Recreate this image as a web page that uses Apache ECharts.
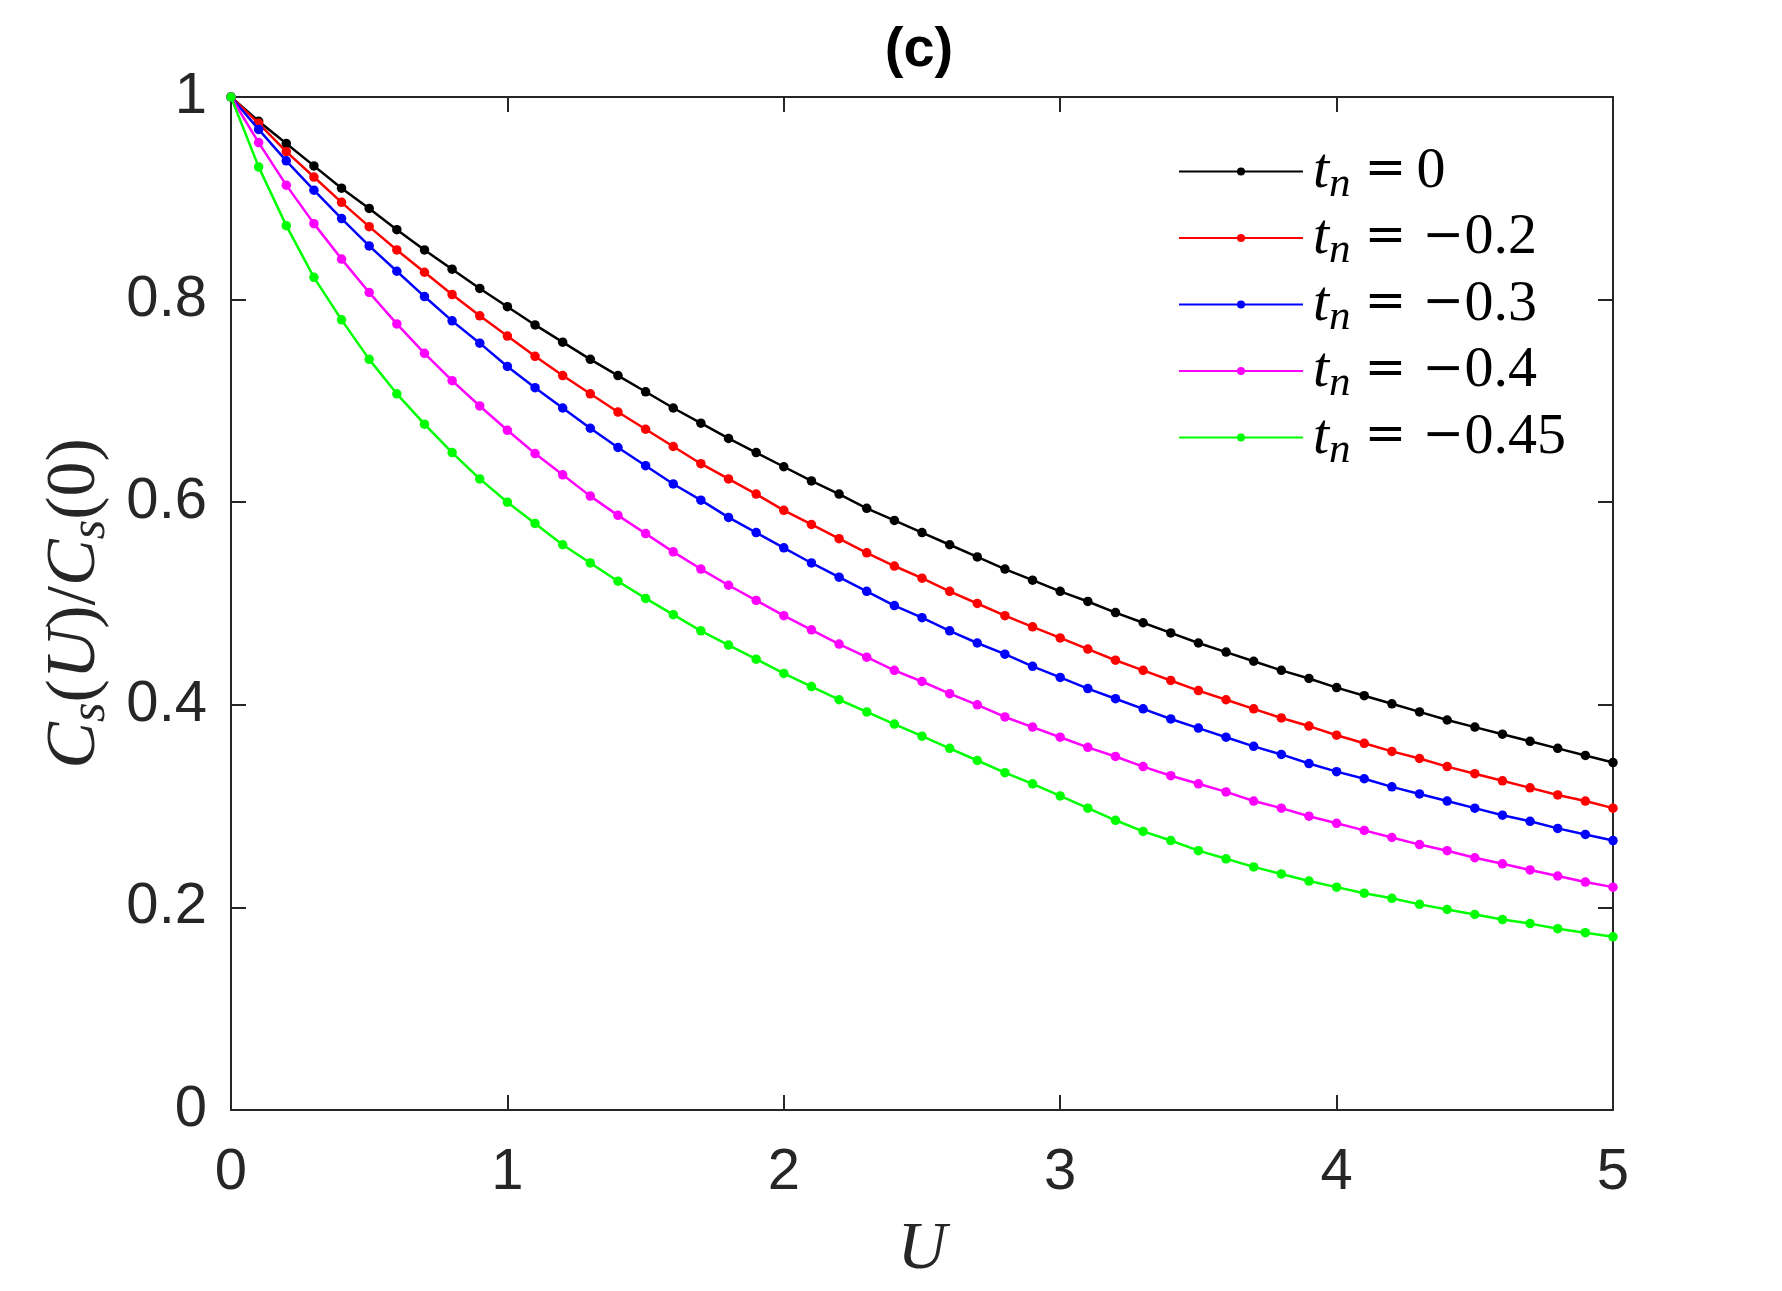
<!DOCTYPE html>
<html>
<head>
    <meta charset="utf-8">
    <title>Cs(U)/Cs(0)</title>
    <script src="https://cdn.jsdelivr.net/npm/echarts@6.0.0/dist/echarts.min.js"></script>
    <style>
        body { margin: 0; background: #fff; }
    </style>
</head>
<body>
    <div id="main" style="width: 1782px;height:1291px;"></div>
    <script type="text/javascript">
        // U grid (x values)
        var uValues = [0, 0.1, 0.2, 0.3, 0.4, 0.5, 0.6, 0.7, 0.8, 0.9,
            1.0, 1.1, 1.2, 1.3, 1.4, 1.5, 1.6, 1.7, 1.8, 1.9,
            2.0, 2.1, 2.2, 2.3, 2.4, 2.5, 2.6, 2.7, 2.8, 2.9,
            3.0, 3.1, 3.2, 3.3, 3.4, 3.5, 3.6, 3.7, 3.8, 3.9,
            4.0, 4.1, 4.2, 4.3, 4.4, 4.5, 4.6, 4.7, 4.8, 4.9, 5.0];

        // Cs(U)/Cs(0)
        var tn0 = [1, 0.976, 0.954, 0.932, 0.910, 0.890, 0.869, 0.849, 0.830, 0.811,
            0.793, 0.775, 0.758, 0.741, 0.725, 0.709, 0.693, 0.678, 0.663, 0.649,
            0.635, 0.621, 0.608, 0.594, 0.582, 0.570, 0.558, 0.546, 0.534, 0.523,
            0.512, 0.502, 0.491, 0.481, 0.471, 0.461, 0.452, 0.443, 0.434, 0.426,
            0.417, 0.409, 0.401, 0.393, 0.385, 0.378, 0.371, 0.364, 0.357, 0.350, 0.343];
        var tnM02 = [1, 0.974, 0.946, 0.921, 0.896, 0.872, 0.849, 0.827, 0.805, 0.784,
            0.764, 0.744, 0.725, 0.707, 0.689, 0.672, 0.655, 0.638, 0.623, 0.608,
            0.592, 0.578, 0.564, 0.550, 0.537, 0.525, 0.512, 0.500, 0.488, 0.477,
            0.466, 0.455, 0.444, 0.434, 0.424, 0.414, 0.405, 0.396, 0.387, 0.379,
            0.370, 0.362, 0.354, 0.347, 0.339, 0.332, 0.325, 0.318, 0.311, 0.305, 0.298];
        var tnM03 = [1, 0.968, 0.937, 0.908, 0.880, 0.853, 0.828, 0.803, 0.779, 0.757,
            0.734, 0.713, 0.693, 0.673, 0.654, 0.636, 0.618, 0.602, 0.585, 0.570,
            0.555, 0.540, 0.526, 0.512, 0.498, 0.486, 0.473, 0.461, 0.450, 0.438,
            0.427, 0.416, 0.406, 0.396, 0.386, 0.377, 0.368, 0.359, 0.351, 0.342,
            0.334, 0.327, 0.319, 0.312, 0.305, 0.298, 0.291, 0.285, 0.278, 0.272, 0.266];
        var tnM04 = [1, 0.955, 0.913, 0.875, 0.840, 0.807, 0.776, 0.747, 0.720, 0.695,
            0.671, 0.648, 0.627, 0.606, 0.587, 0.569, 0.551, 0.534, 0.518, 0.503,
            0.488, 0.474, 0.460, 0.447, 0.434, 0.423, 0.411, 0.400, 0.388, 0.378,
            0.368, 0.358, 0.349, 0.339, 0.330, 0.322, 0.314, 0.305, 0.298, 0.290,
            0.283, 0.276, 0.269, 0.262, 0.256, 0.249, 0.243, 0.237, 0.231, 0.225, 0.220];
        var tnM045 = [1, 0.931, 0.873, 0.822, 0.780, 0.741, 0.707, 0.677, 0.649, 0.623,
            0.600, 0.579, 0.558, 0.540, 0.522, 0.505, 0.489, 0.473, 0.459, 0.445,
            0.431, 0.418, 0.405, 0.393, 0.381, 0.369, 0.357, 0.345, 0.333, 0.322,
            0.310, 0.298, 0.286, 0.275, 0.266, 0.256, 0.248, 0.240, 0.233, 0.226,
            0.220, 0.214, 0.209, 0.203, 0.198, 0.193, 0.188, 0.184, 0.179, 0.175, 0.171];

        // legend values of t_n (sign kept apart from the digits)
        var tnSigns = ['', '\u2212', '\u2212', '\u2212', '\u2212'];
        var tnDigits = ['0', '0.2', '0.3', '0.4', '0.45'];
        var seriesValues = [tn0, tnM02, tnM03, tnM04, tnM045];
        var seriesColors = ['#000000', '#ff0000', '#0000ff', '#ff00ff', '#00ff00'];

        var myChart = echarts.init(document.getElementById('main'));

        var axisColor = '#262626';
        var serif = 'Liberation Serif';
        var mathSym = 'DejaVu Serif';
        var sans = 'Liberation Sans';

        var names = tnDigits.map(function (v, i) { return 'tn = ' + tnSigns[i] + v; });

        var series = seriesValues.map(function (vals, i) {
            return {
                name: names[i],
                type: 'line',
                data: uValues.map(function (u, k) { return [u, vals[k]]; }),
                symbol: 'circle',
                symbolSize: 9.5,
                showSymbol: true,
                lineStyle: { color: seriesColors[i], width: 2.5 },
                itemStyle: { color: seriesColors[i] },
                z: 2 + i
            };
        });

        // one legend per row so every row sits where it should
        var legends = names.map(function (name, i) {
            return {
                data: [name],
                left: 1178,
                top: 137 + i * 66.5,
                orient: 'vertical',
                itemWidth: 124,
                itemHeight: 10,
                padding: 0,
                selectedMode: false,
                formatter: function (n) {
                    var k = names.indexOf(n);
                    var s = '{t|t}{n|n}{e|=}';
                    if (tnSigns[k]) s += '{m|' + tnSigns[k] + '}';
                    return s + '{v|' + tnDigits[k] + '}';
                },
                textStyle: {
                    color: '#000',
                    rich: {
                        t: { fontFamily: serif, fontStyle: 'italic', fontSize: 58, lineHeight: 60, padding: [0, 0, 0, 5] },
                        n: { fontFamily: serif, fontStyle: 'italic', fontSize: 43, lineHeight: 40, padding: [26, 0, 0, 0] },
                        e: { fontFamily: mathSym, fontSize: 50, lineHeight: 60, padding: [0, 10, 0, 14] },
                        m: { fontFamily: mathSym, fontSize: 50, lineHeight: 60, padding: [0, 0, 0, 6] },
                        v: { fontFamily: serif, fontSize: 58, lineHeight: 60 }
                    }
                }
            };
        });

        var axisCommon = {
            axisLine: { show: true, onZero: false, lineStyle: { color: axisColor, width: 2 } },
            axisTick: { show: true, inside: true, length: 15, lineStyle: { color: axisColor, width: 2 } },
            splitLine: { show: false }
        };

        option = {
            animation: false,
            backgroundColor: '#fff',
            title: {
                text: '(c)',
                left: 914,
                top: 18,
                textAlign: 'center',
                textStyle: { fontFamily: sans, fontWeight: 'bold', fontSize: 56, color: '#000' }
            },
            legend: legends,
            grid: {
                left: 231, right: 169, top: 97, bottom: 181,
                containLabel: false,
                outerBoundsMode: 'none'
            },
            xAxis: [
                Object.assign({
                    type: 'value', min: 0, max: 5, interval: 1, position: 'bottom',
                    name: '{u|U}', nameLocation: 'middle', nameGap: 106,
                    nameTextStyle: { rich: { u: { fontFamily: serif, fontStyle: 'italic', fontSize: 68, color: axisColor } } },
                    axisLabel: { fontFamily: sans, fontSize: 58, color: axisColor, margin: 34 }
                }, axisCommon),
                Object.assign({
                    type: 'value', min: 0, max: 5, interval: 1, position: 'top',
                    axisLabel: { show: false }
                }, axisCommon)
            ],
            yAxis: [
                Object.assign({
                    type: 'value', min: 0, max: 1, interval: 0.2, position: 'left',
                    name: '{c|C}{s|s}{p|(}{c|U}{p|)/}{c|C}{s|s}{p|(0)}',
                    nameLocation: 'middle', nameGap: 118, nameRotate: 90,
                    nameTextStyle: {
                        color: axisColor,
                        rich: {
                            c: { fontFamily: serif, fontStyle: 'italic', fontSize: 70, lineHeight: 70, color: axisColor },
                            s: { fontFamily: serif, fontStyle: 'italic', fontSize: 50, lineHeight: 48, padding: [30, 0, 0, 0], color: axisColor },
                            p: { fontFamily: serif, fontSize: 70, lineHeight: 70, color: axisColor }
                        }
                    },
                    axisLabel: { fontFamily: sans, fontSize: 58, color: axisColor, margin: 24 }
                }, axisCommon),
                Object.assign({
                    type: 'value', min: 0, max: 1, interval: 0.2, position: 'right',
                    axisLabel: { show: false }
                }, axisCommon)
            ],
            series: series
        };

        myChart.setOption(option);
    </script>
</body>
</html>
